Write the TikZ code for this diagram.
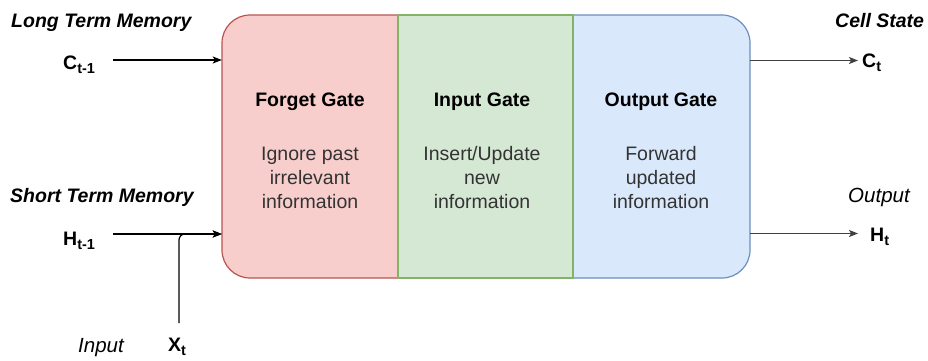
\documentclass[tikz,border=0pt]{standalone}
\usepackage{fontspec}
\setmainfont{Liberation Sans}
\usepackage{xcolor}
\usetikzlibrary{positioning,arrows.meta,calc}

% draw.io palette
\definecolor{forgetfill}{HTML}{F8CECC}
\definecolor{forgetline}{HTML}{B85450}
\definecolor{inputfill}{HTML}{D5E8D4}
\definecolor{inputline}{HTML}{82B366}
\definecolor{outputfill}{HTML}{DAE8FC}
\definecolor{outputline}{HTML}{6C8EBF}
\definecolor{desctext}{HTML}{333333}

% lowered subscript that follows the large text size
\newcommand{\lsub}[1]{\raisebox{-0.25em}{\fontsize{14.5}{14.5}\selectfont #1}}

\tikzset{
  lbl/.style={inner sep=0pt, anchor=base west, font=\fontsize{19.5}{24}\selectfont},
  title/.style={inner sep=0pt, anchor=base, font=\fontsize{19.5}{24}\selectfont\bfseries},
  desc/.style={inner sep=0pt, anchor=base, align=center, text=desctext,
    font=\fontsize{19.5}{24}\selectfont},
  arr/.style={line width=1.2pt, -{Stealth[length=9pt,width=7pt,inset=2pt]}}
}

\begin{document}
\begin{tikzpicture}[x=1pt,y=-1pt]
  \useasboundingbox (0,0) rectangle (928,360);

  % the cell, split into three gates
  \node[minimum width=528pt, minimum height=263pt, inner sep=0pt] (cell) at (486,146.5) {};
  % forget gate: rounded on the left
  \draw[fill=forgetfill, draw=forgetline, line width=1.2pt]
    (398,278) [rounded corners=28pt] -- (222,278) -- (222,15) [sharp corners] -- (398,15);
  % output gate: rounded on the right
  \draw[fill=outputfill, draw=outputline, line width=1.2pt]
    (573,15) [rounded corners=28pt] -- (750,15) -- (750,278) [sharp corners] -- (573,278);
  % input gate in the middle
  \draw[fill=inputfill, draw=inputline, line width=1.2pt] (398,15) rectangle (573,278);

  % gate texts (desc anchored on the last line)
  \node[title] (forget) at (310,106) {Forget Gate};
  \node[desc] (forgetdesc) at (310,208) {Ignore past\\irrelevant\\information};
  \node[title] (inputg) at (482,106) {Input Gate};
  \node[desc] (inputdesc) at (482,208) {Insert/Update\\new\\information};
  \node[title] (outputg) at (661,106) {Output Gate};
  \node[desc] (outputdesc) at (661,208) {Forward\\updated\\information};

  % inputs on the left
  \node[lbl, font=\fontsize{19.5}{24}\selectfont\bfseries\itshape] (ltm) at (11,27) {Long Term Memory};
  \node[lbl, font=\fontsize{19.5}{24}\selectfont\bfseries] (cprev) at (63,69) {C\lsub{t-1}};
  \node[lbl, font=\fontsize{19.5}{24}\selectfont\bfseries\itshape] (stm) at (10,202) {Short Term Memory};
  \node[lbl, font=\fontsize{19.5}{24}\selectfont\bfseries] (hprev) at (63,245) {H\lsub{t-1}};
  \node[lbl, font=\fontsize{20.5}{24}\selectfont\itshape] (inlab) at (78,352) {Input};
  \node[lbl, font=\fontsize{19.5}{24}\selectfont\bfseries] (xt) at (168,351) {X\lsub{t}};

  \coordinate (cin) at (113,60);
  \coordinate (hin) at (113,234);
  \coordinate (xin) at (179,323);
  \draw[arr] (cin) -- (cell.west |- cin);
  \draw[arr] (hin) -- (cell.west |- hin);
  \draw[arr, rounded corners=6pt] (xin) |- (cell.west |- hin);

  % outputs on the right
  \node[lbl, font=\fontsize{19.5}{24}\selectfont\bfseries\itshape] (cstate) at (835,27) {Cell State};
  \node[lbl, font=\fontsize{19.5}{24}\selectfont\bfseries] (ct) at (862,67) {C\lsub{t}};
  \node[lbl, font=\fontsize{20.5}{24}\selectfont\itshape] (outlab) at (848,202) {Output};
  \node[lbl, font=\fontsize{19.5}{24}\selectfont\bfseries] (ht) at (870,241) {H\lsub{t}};

  \coordinate (cout) at (858,60.5);
  \coordinate (hout) at (858,233.5);
  \draw[arr, black!75] (cell.east |- cout) -- (cout);
  \draw[arr, black!75] (cell.east |- hout) -- (hout);
\end{tikzpicture}
\end{document}
